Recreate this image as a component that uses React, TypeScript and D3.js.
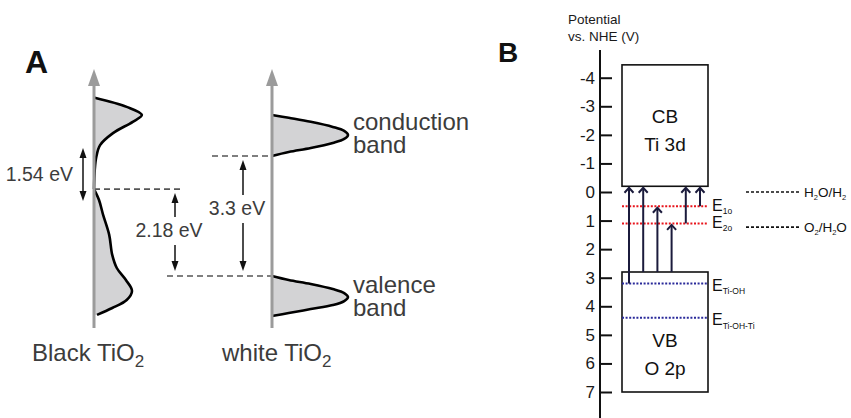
import * as React from 'react';
import * as d3 from 'd3';

// ---- Panel A: sketched densities of states
// energy in eV above the white TiO2 valence band edge, DOS in arbitrary units
const blackUpperE = [4.9, 4.65, 4.43, 4.24, 3.93, 3.6, 3.27, 2.92, 2.39];
const blackUpperDos = [0.01, 0.43, 0.63, 0.51, 0.25, 0.08, 0.03, 0.01, 0];
const blackLowerE = [2.39, 2.09, 1.68, 1.13, 0.58, 0.22, -0.11, -0.41, -0.66, -0.88, -1.07];
const blackLowerDos = [0, 0.066, 0.12, 0.2, 0.24, 0.3, 0.42, 0.5, 0.43, 0.24, 0.04];
const whiteCbE = [4.43, 4.35, 4.24, 4.1, 3.99, 3.88, 3.77, 3.66, 3.52, 3.41, 3.3];
const whiteVbE = [0, -0.11, -0.22, -0.36, -0.47, -0.58, -0.69, -0.8, -0.91, -1.02, -1.1];
const whiteBandDos = [0, 0.22, 0.51, 0.8, 0.95, 1, 0.95, 0.8, 0.51, 0.22, 0];

const materials = ['Black TiO2', 'white TiO2'];
const bandNames = ['conduction', 'valence'];
const blackMidLevel = 2.39;
const whiteCbEdge = 3.3;
const whiteVbEdge = 0;
const gapLabels = ['1.54 eV', '2.18 eV', '3.3 eV'];
const gapTop = [3.52, 2.39, 3.3];
const gapBottom = [2.06, 0, 0];

// ---- Panel B: potential vs. NHE (V)
const potentialTicks = [-4, -3, -2, -1, 0, 1, 2, 3, 4, 5, 6, 7];
const bandTitles = ['CB', 'VB'];
const bandOrbitals = ['Ti 3d', 'O 2p'];
const bandUpper = [-4.45, 2.8];
const bandLower = [-0.2, 7];
const trapNames = ['1o', '2o', 'Ti-OH', 'Ti-OH-Ti'];
const trapPotential = [0.5, 1.1, 3.2, 4.4];
const trapColors = ['#e8141c', '#e8141c', '#2a2a9a', '#2a2a9a'];
const redoxCouples = ['H2O/H2', 'O2/H2O'];
const redoxPotential = [0, 1.23];
const transitionFrom = [3.2, 2.8, 2.8, 2.8, 1.1, 0.5];
const transitionTo = [-0.2, -0.2, 0.5, 1.1, -0.2, -0.2];

const FONT = "'Liberation Sans', Arial, Helvetica, sans-serif";

// digits become subscripts
const Chem = ({ s, sub, shift }: { s: string; sub: number; shift: number }) => {
  const parts = s.split(/(\d)/).filter((p) => p !== '');
  let down = false;
  return (
    <>
      {parts.map((p, i) => {
        const isSub = /\d/.test(p);
        let dy = 0;
        if (isSub && !down) { dy = shift; down = true; }
        else if (!isSub && down) { dy = -shift; down = false; }
        return (
          <tspan key={i} dy={dy} fontSize={isSub ? sub : undefined}>{p}</tspan>
        );
      })}
    </>
  );
};

export default function App() {
  const axisRef = React.useRef<SVGGElement | null>(null);

  // panel A scales
  const yA = d3.scaleLinear().domain([0, 3.3]).range([276, 156]);
  const dosX = d3.scaleLinear().domain([0, 1]).range([0, 76]);
  const axisXA = [94, 272];

  const area = d3
    .area<[number, number]>()
    .y((d) => yA(d[0]))
    .x0(0)
    .x1((d) => dosX(d[1]))
    .curve(d3.curveCatmullRom);
  const line = d3
    .line<[number, number]>()
    .y((d) => yA(d[0]))
    .x((d) => dosX(d[1]))
    .curve(d3.curveCatmullRom);

  const zip = (e: number[], v: number[]) => e.map((x, i) => [x, v[i]] as [number, number]);
  const blackCurves = [zip(blackUpperE, blackUpperDos), zip(blackLowerE, blackLowerDos)];
  const whiteCurves = [zip(whiteCbE, whiteBandDos), zip(whiteVbE, whiteBandDos)];

  // panel B scales
  const yB = d3.scaleLinear().domain([0, 7]).range([192, 392]);
  const axisXB = 600;
  const boxX = [622, 708];
  const arrowX = d3.scalePoint<number>().domain(d3.range(transitionFrom.length)).range([629, 700]);

  React.useEffect(() => {
    if (!axisRef.current) return;
    const g = d3.select(axisRef.current);
    g.selectAll('*').remove();
    g.call(
      d3
        .axisLeft(yB)
        .tickValues(potentialTicks)
        .tickSizeInner(-12)
        .tickSizeOuter(0)
        .tickPadding(5)
        .tickFormat((d) => String(d))
    );
    g.select('.domain').remove();
    g.selectAll('.tick line').attr('stroke', '#111').attr('stroke-width', 2);
    g.selectAll('.tick text')
      .attr('fill', '#1a1a1a')
      .attr('font-size', 17)
      .attr('font-family', FONT);
  }, []);

  const grey = '#3c3c3c';
  const upHead = (x: number, y: number) => `M${x},${y} L${x - 3.5},${y + 10} L${x + 3.5},${y + 10} Z`;
  const downHead = (x: number, y: number) => `M${x},${y} L${x - 3.5},${y - 10} L${x + 3.5},${y - 10} Z`;

  // layout of the gap labels (x of arrow, text centre)
  const gapX = [83, 175, 243];
  const gapTextY = [174, 230, 208];

  return (
    <svg
      width={851}
      height={418}
      style={{ position: 'absolute', left: 0, top: 0, background: '#fff' }}
      fontFamily={FONT}
    >
      {/* ---------- Panel A ---------- */}
      <text x={25} y={73} fontSize={32} fontWeight="bold" fill="#111">A</text>

      {/* dashed levels */}
      <g stroke="#555" strokeWidth={1.6} strokeDasharray="6,4">
        <line x1={axisXA[0]} x2={182} y1={yA(blackMidLevel)} y2={yA(blackMidLevel)} />
        <line x1={212} x2={axisXA[1]} y1={yA(whiteCbEdge)} y2={yA(whiteCbEdge)} />
        <line x1={167} x2={axisXA[1]} y1={yA(whiteVbEdge)} y2={yA(whiteVbEdge)} />
      </g>

      {/* DOS curves */}
      {[blackCurves, whiteCurves].map((curves, k) => (
        <g key={k} transform={`translate(${axisXA[k]},0)`}>
          {curves.map((c, i) => (
            <g key={i}>
              <path d={area(c) ?? ''} fill="#d3d3d5" />
              <path d={line(c) ?? ''} fill="none" stroke="#000" strokeWidth={2.6} />
            </g>
          ))}
        </g>
      ))}

      {/* energy axes */}
      {axisXA.map((x, i) => (
        <g key={i}>
          <line x1={x} x2={x} y1={82} y2={328} stroke="#9b9b9b" strokeWidth={3} />
          <path d={`M${x},69 L${x - 6},86 L${x + 6},86 Z`} fill="#9b9b9b" />
        </g>
      ))}

      {/* gap arrows */}
      {gapLabels.map((lab, i) => {
        const x = gapX[i];
        const ty = gapTextY[i];
        if (i === 0) {
          const t = yA(gapTop[i]);
          const b = yA(gapBottom[i]);
          return (
            <g key={i}>
              <line x1={x} x2={x} y1={t + 6} y2={b - 6} stroke="#111" strokeWidth={1.5} />
              <path d={upHead(x, t)} fill="#111" />
              <path d={downHead(x, b)} fill="#111" />
              <text x={73} y={ty + 7} fontSize={19.5} fill={grey} textAnchor="end">{lab}</text>
            </g>
          );
        }
        const t = yA(gapTop[i]) + 4;
        const b = yA(gapBottom[i]) - 5;
        return (
          <g key={i}>
            <line x1={x} x2={x} y1={t + 6} y2={ty - 13} stroke="#111" strokeWidth={1.5} />
            <path d={upHead(x, t)} fill="#111" />
            <line x1={x} x2={x} y1={ty + 15} y2={b - 6} stroke="#111" strokeWidth={1.5} />
            <path d={downHead(x, b)} fill="#111" />
            <text x={x - 6} y={ty + 7} fontSize={19.5} fill={grey} textAnchor="middle">{lab}</text>
          </g>
        );
      })}

      {/* band names */}
      {bandNames.map((n, i) => {
        const base = i === 0 ? 130 : 293;
        return (
          <g key={n}>
            <text x={353} y={base} fontSize={24} fill={grey}>{n}</text>
            <text x={353} y={base + 23} fontSize={24} fill={grey}>band</text>
          </g>
        );
      })}

      {/* material labels */}
      {materials.map((m, i) => (
        <text key={m} x={i === 0 ? 32 : 222} y={361} fontSize={24} fill={grey}>
          <Chem s={m} sub={17} shift={6} />
        </text>
      ))}

      {/* ---------- Panel B ---------- */}
      <text x={498} y={62} fontSize={28} fontWeight="bold" fill="#111">B</text>
      <text x={568} y={24} fontSize={13.5} fill="#1a1a1a">Potential</text>
      <text x={568} y={41} fontSize={13.5} fill="#1a1a1a">vs. NHE (V)</text>

      <line x1={axisXB} x2={axisXB} y1={50} y2={418} stroke="#111" strokeWidth={2} />
      <g ref={axisRef} transform={`translate(${axisXB},0)`} />

      {/* band boxes */}
      {bandTitles.map((t, i) => {
        const top = yB(bandUpper[i]);
        const bot = yB(bandLower[i]);
        const cx = (boxX[0] + boxX[1]) / 2;
        const mid = i === 0 ? 123 : 347;
        return (
          <g key={t}>
            <rect x={boxX[0]} y={top} width={boxX[1] - boxX[0]} height={bot - top} fill="none" stroke="#111" strokeWidth={1.6} />
            <text x={cx} y={mid} fontSize={19} textAnchor="middle" fill="#111">{t}</text>
            <text x={cx} y={mid + 28} fontSize={19} textAnchor="middle" fill="#111">{bandOrbitals[i]}</text>
          </g>
        );
      })}

      {/* trap levels */}
      {trapNames.map((n, i) => {
        const y = yB(trapPotential[i]);
        const red = i < 2;
        return (
          <g key={n}>
            <line x1={boxX[0]} x2={boxX[1]} y1={y} y2={y} stroke={trapColors[i]} strokeWidth={2} strokeDasharray="2,1.6" />
            <text x={712} y={y + (red ? 4.5 : 7.5)} fontSize={16} fill="#111">
              E<tspan dy={3.5} fontSize={8.5}>{n}</tspan>
            </text>
          </g>
        );
      })}

      {/* transitions */}
      {transitionFrom.map((f, i) => {
        const x = arrowX(i) ?? 0;
        const y0 = yB(f);
        const y1 = yB(transitionTo[i]) + 1.5;
        return (
          <g key={i} stroke="#1b1b3c" strokeWidth={2} fill="none">
            <line x1={x} x2={x} y1={y0} y2={y1} />
            <path d={`M${x - 4.5},${y1 + 5} L${x},${y1} L${x + 4.5},${y1 + 5}`} />
          </g>
        );
      })}

      {/* redox couples */}
      {redoxCouples.map((r, i) => {
        const y = yB(redoxPotential[i]);
        return (
          <g key={r}>
            <line x1={746} x2={799} y1={y} y2={y} stroke="#111" strokeWidth={1.6} strokeDasharray="3,2" />
            <text x={804} y={y + 5} fontSize={13.5} fill="#111">
              <Chem s={r} sub={7.5} shift={3} />
            </text>
          </g>
        );
      })}
    </svg>
  );
}
